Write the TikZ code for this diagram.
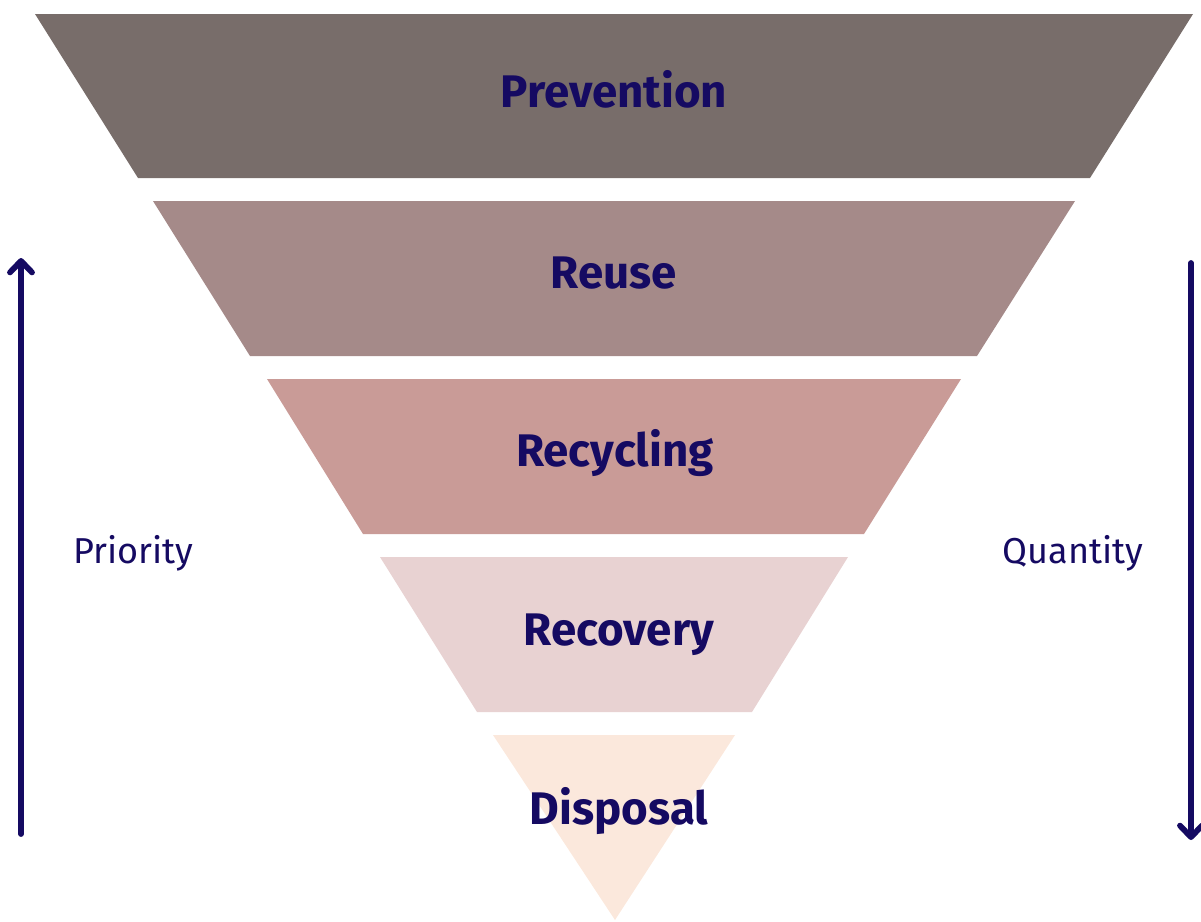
\documentclass[tikz,border=0pt]{standalone}
\usepackage{fontspec}
\setmainfont{Fira Sans}
\usetikzlibrary{arrows.meta}
\usepackage{xcolor}

\definecolor{inkblue}{HTML}{150A62}
\definecolor{tierA}{HTML}{786D6A}
\definecolor{tierB}{HTML}{A58A89}
\definecolor{tierC}{HTML}{C99B97}
\definecolor{tierD}{HTML}{E8D2D2}
\definecolor{tierE}{HTML}{FBE8DC}

\begin{document}
\begin{tikzpicture}[x=0.02cm, y=-0.02cm,
  tierlabel/.style={anchor=base, text=inkblue, font=\fontsize{26}{30}\selectfont\bfseries},
  sidelabel/.style={anchor=base, text=inkblue, font=\fontsize{20.5}{24}\selectfont},
  axisarrow/.style={draw=inkblue, line width=3.3pt, line cap=round, -{Straight Barb[length=2.3mm, width=4.4mm, round]}}]
\useasboundingbox (0,0) rectangle (1201,921);

% funnel tiers
\fill[tierA] (35,14) -- (1193,14) -- (1090,178) -- (138,178) -- cycle;
\fill[tierB] (153,201) -- (1075,201) -- (977,356) -- (250,356) -- cycle;
\fill[tierC] (267,379) -- (961,379) -- (864,534) -- (363,534) -- cycle;
\fill[tierD] (380,557) -- (848,557) -- (752,712) -- (477,712) -- cycle;
\fill[tierE] (493,735) -- (735,735) -- (615,920) -- cycle;

\node[tierlabel] (prevention) at (614,107) {Prevention};
\node[tierlabel] (reuse) at (614,288) {Reuse};
\node[tierlabel] (recycling) at (615,466) {Recycling};
\node[tierlabel] (recovery) at (619,645) {Recovery};
\node[tierlabel] (disposal) at (619,824) {Disposal};

% side arrows
\node[sidelabel] (priority) at (133,563) {Priority};
\node[sidelabel] (quantity) at (1073,563) {Quantity};
\coordinate (prioLow) at (21,834);
\coordinate (prioHigh) at (21,258);
\coordinate (quantLow) at (1191,263);
\coordinate (quantHigh) at (1191,840);
\draw[axisarrow] (prioLow) -- (prioHigh);
\draw[axisarrow] (quantLow) -- (quantHigh);
\end{tikzpicture}
\end{document}
